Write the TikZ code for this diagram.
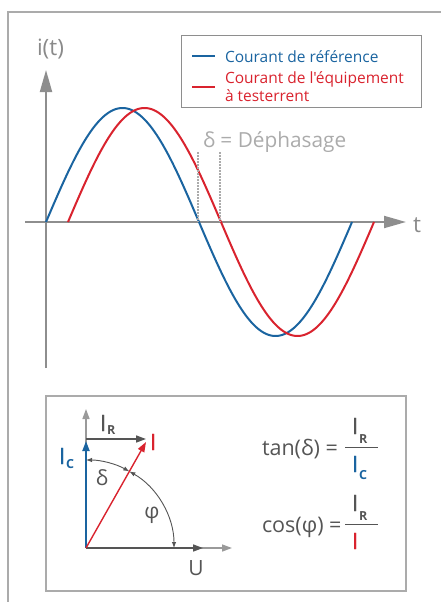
\documentclass[tikz,border=0pt]{standalone}
\usepackage{fontspec}
\setmainfont{Open Sans}[Ligatures=TeXOff]
\newfontfamily\Ifont{Open Sans}[Ligatures=TeXOff, FakeBold=1.2]
\usetikzlibrary{arrows.meta}
\definecolor{cblue}{HTML}{1A64A0}
\definecolor{cred}{HTML}{D9232E}
\definecolor{axgray}{HTML}{8E8E8E}
\definecolor{txgray}{HTML}{8A8A8A}
\definecolor{ltgray}{HTML}{ABABAB}
\definecolor{dkgray}{HTML}{555555}
\newcommand{\Isb}[2][0.3em]{{\Ifont I}\kern0.8pt\raisebox{-#1}{\fontsize{12.5}{12.5}\selectfont\bfseries #2}}
\begin{document}
\begin{tikzpicture}[x=1pt,y=-1pt,
  every node/.style={inner sep=0pt, outer sep=0pt},
  frameline/.style={draw=ltgray, line width=1.5pt},
  bigaxis/.style={draw=axgray, line width=2pt, -{Triangle[length=22pt,width=12pt]}},
  wave/.style={line width=2pt, domain=0:306, samples=150, smooth},
  smallaxis/.style={draw=ltgray!90!black, line width=1.5pt, -{Triangle[length=10pt,width=7pt]}},
  vec/.style={line width=1.6pt, -{Triangle[length=10pt,width=7pt]}},
  anglearc/.style={draw=dkgray, line width=0.9pt, {Latex[length=6pt,width=4.5pt]}-{Latex[length=6pt,width=4.5pt]}},
  lbl/.style={font=\fontsize{21}{21}\selectfont},
  bigI/.style={font=\fontsize{22.5}{22}\selectfont, anchor=base west},
  formula/.style={font=\fontsize{21.5}{22}\selectfont, text=dkgray},
  legtext/.style={font=\fontsize{15.5}{16}\selectfont, anchor=base west}]
\useasboundingbox (0,0) rectangle (441,602);
% outer frame
\coordinate (fbl) at (8,602);
\coordinate (ftl) at (8,12);
\coordinate (ftr) at (441,12);
\draw[frameline] (fbl) -- (ftl) -- (ftr);

% axes
\coordinate (ybot) at (46,368);
\coordinate (ytop) at (46,70);
\coordinate (tleft) at (25,222);
\coordinate (tright) at (406,222);
\draw[bigaxis] (ybot) -- (ytop);
\draw[bigaxis] (tleft) -- (tright);
\node[text=txgray, anchor=base west, font=\fontsize{22.5}{22}\selectfont] (ilbl) at (37,56) {i(t)};
\node[text=txgray, anchor=base west, font=\fontsize{22.5}{22}\selectfont] (tlbl) at (413,232) {t};

% waves
\draw[wave, cblue] plot ({46+\x},{222-114*sin(\x/0.85)});
\draw[wave, cred] plot ({68+\x},{222-114*sin(\x/0.85)});

% phase shift
\coordinate (d1t) at (198,152); \coordinate (d1b) at (198,222);
\coordinate (d2t) at (220,152); \coordinate (d2b) at (220,222);
\draw[ltgray, line width=1.4pt, dash pattern=on 1.5pt off 1.5pt] (d1t) -- (d1b);
\draw[ltgray, line width=1.4pt, dash pattern=on 1.5pt off 1.5pt] (d2t) -- (d2b);
\node[anchor=base west, text=ltgray, font=\fontsize{20.8}{21}\selectfont] (dephas) at (203,147) {δ = Déphasage};

% legend
\draw[draw=axgray, line width=1pt] (181,36) rectangle (421,107);
\coordinate (lb1) at (192,56); \coordinate (lb2) at (215,56);
\coordinate (lr1) at (192,87); \coordinate (lr2) at (215,87);
\draw[cblue, line width=2pt] (lb1) -- (lb2);
\draw[cred, line width=2pt] (lr1) -- (lr2);
\node[legtext, text=cblue] (leg1) at (225,62.5) {Courant de référence};
\node[legtext, text=cred] (leg2) at (225,83) {Courant de l'équipement};
\node[legtext, text=cred] (leg3) at (225,101.5) {à testerrent};

% bottom panel
\draw[frameline] (46,396) rectangle (406,591);
\coordinate (P) at (86,548);
\coordinate (vtop) at (86,409);
\coordinate (hend) at (232,548);
\coordinate (Uend) at (203,548);
\coordinate (Ictip) at (86,441);
\coordinate (IRs) at (86,439);
\coordinate (IRe) at (146,439);
\coordinate (Itip) at (146,442);
\draw[smallaxis] (P) -- (vtop);
\draw[smallaxis] (P) -- (hend);
\draw[vec, dkgray] (P) -- (Uend);
\draw[vec, cblue, line width=2pt] (P) -- (Ictip);
\draw[vec, dkgray] (IRs) -- (IRe);
\draw[vec, cred, line width=1.4pt] (P) -- (Itip);
\draw[anglearc] (P) ++(-90:88) arc[start angle=-90, end angle=-60.5, radius=88];
\draw[anglearc] (P) ++(-60.5:88) arc[start angle=-60.5, end angle=0, radius=88];

\node[bigI, text=cblue] (Iclbl) at (59,464) {\Isb[0.22em]{C}};
\node[bigI, text=dkgray] (IRlbl) at (100,431) {\Isb[0.15em]{R}};
\node[bigI, text=cred] (Ilbl) at (150,450) {\Ifont I};
\node[lbl, text=dkgray] (dlbl) at (102,478) {δ};
\node[lbl, text=dkgray] (plbl) at (152,515) {φ};
\node[lbl, text=dkgray, anchor=base] (Ulbl) at (196,575) {U};

% formulas
\node[formula, anchor=base west] (tanf) at (262,455) {tan(δ) =};
\draw[dkgray, line width=1pt] (345,447) -- (378,447);
\node[bigI, text=dkgray] (tanN) at (352,434) {\Isb[0.42em]{R}};
\node[bigI, text=cblue] (tanD) at (352,472) {\Isb[0.35em]{C}};
\node[formula, anchor=base west] (cosf) at (262,532) {cos(φ) =};
\draw[dkgray, line width=1pt] (345,524) -- (378,524);
\node[bigI, text=dkgray] (cosN) at (352,511) {\Isb[0.42em]{R}};
\node[bigI, text=cred] (cosD) at (352,549) {\Ifont I};
\end{tikzpicture}
\end{document}
